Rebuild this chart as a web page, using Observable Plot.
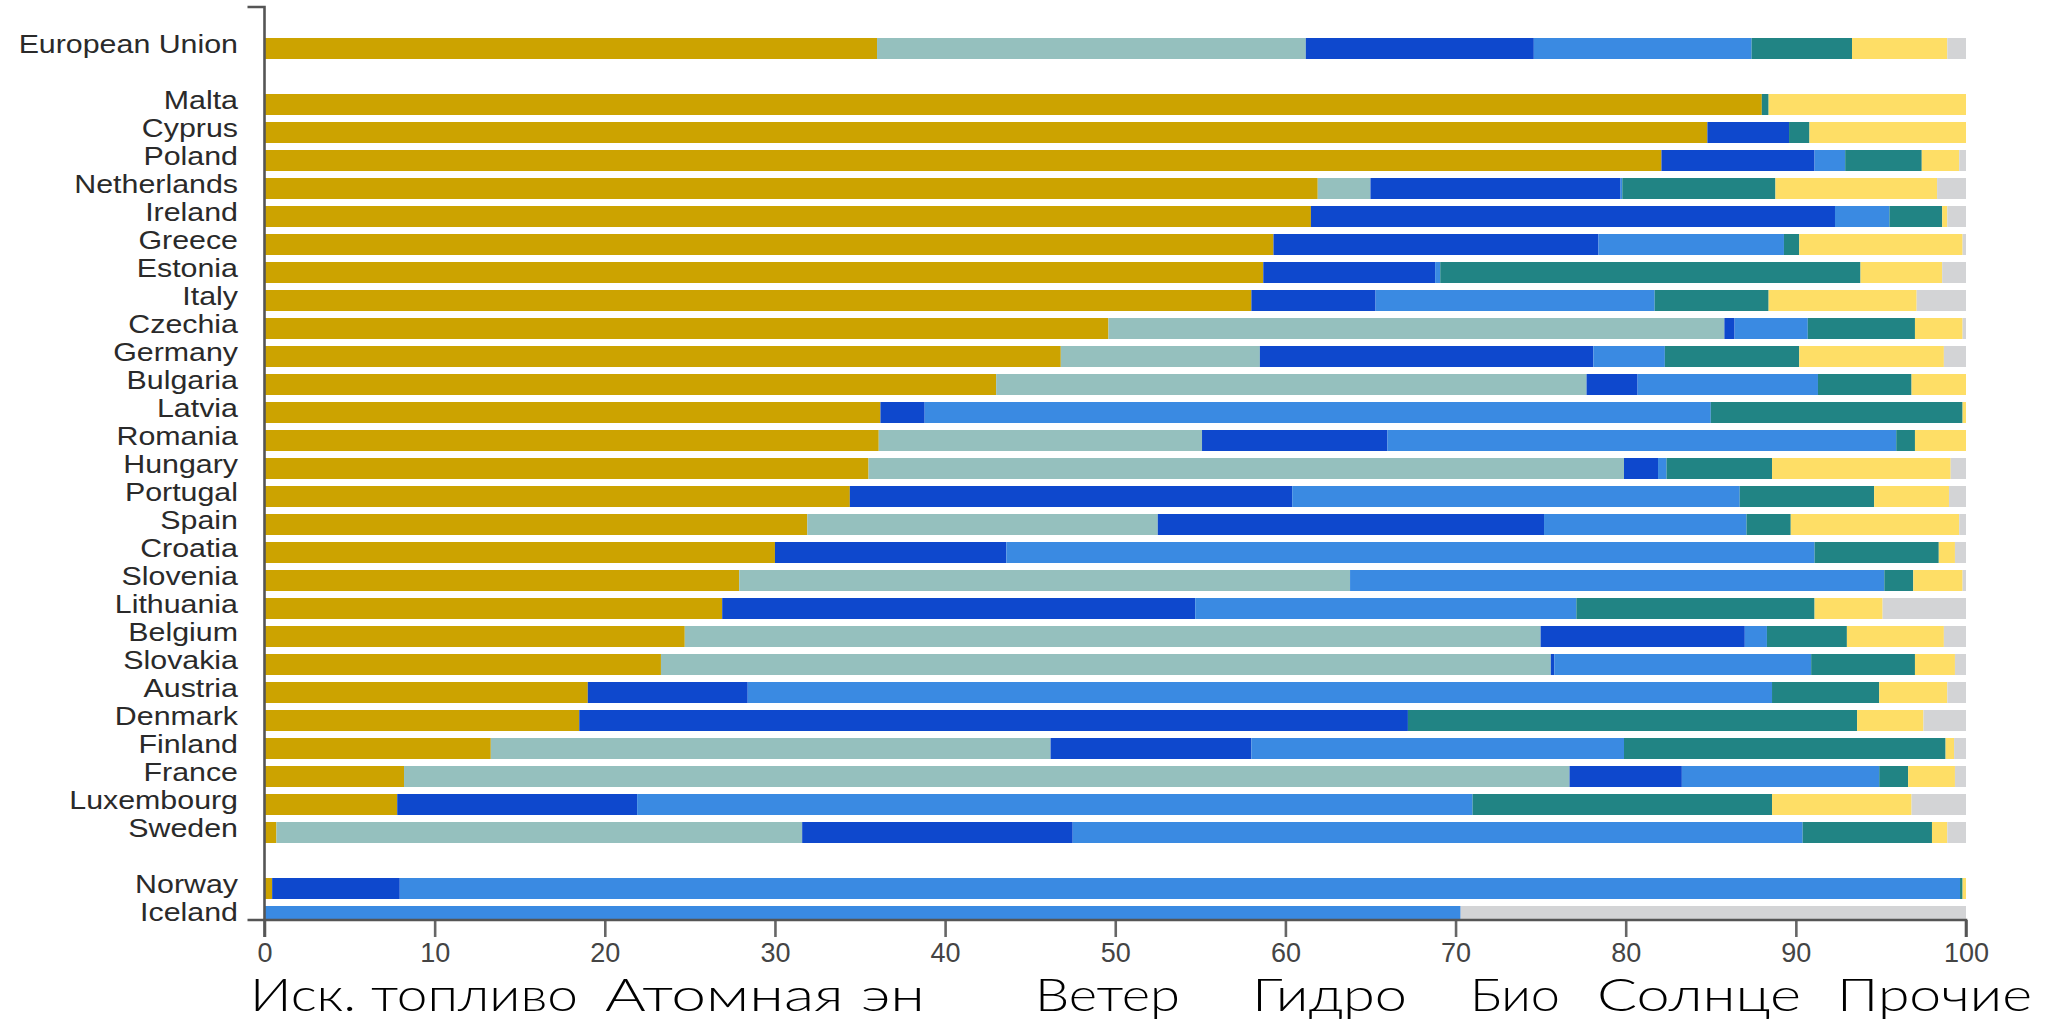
<!DOCTYPE html>
<html>
<head>
<meta charset="utf-8">
<script src="https://cdn.jsdelivr.net/npm/d3@7"></script>
<script src="https://cdn.jsdelivr.net/npm/@observablehq/plot@0.6"></script>
<style>
  html, body { margin: 0; padding: 0; background: #fff; overflow: hidden; }
  #chart svg { display: block; overflow: visible; }
  #legend { display: block; overflow: visible; }
</style>
</head>
<body>
<div id="chart"></div>
<svg id="legend" width="2046" height="51"></svg>
<script>
// ---- data (percent of electricity generation) ----
const countries = ["European Union","Malta","Cyprus","Poland","Netherlands","Ireland","Greece","Estonia","Italy","Czechia","Germany","Bulgaria","Latvia","Romania","Hungary","Portugal","Spain","Croatia","Slovenia","Lithuania","Belgium","Slovakia","Austria","Denmark","Finland","France","Luxembourg","Sweden","Norway","Iceland"];
const fossil  = [36.0,88.0,84.8,82.1,61.9,61.5,59.3,58.7,58.0,49.6,46.8,43.0,36.2,36.1,35.5,34.4,31.9,30.0,27.9,26.9,24.7,23.3,19.0,18.5,13.3,8.2,7.8,0.7,0.45,0];
const nuclear = [25.2,0,0,0,3.1,0,0,0,0,36.2,11.7,34.7,0,19.0,44.4,0,20.6,0,35.9,0,50.3,52.3,0,0,32.9,68.5,0,30.9,0,0];
const wind    = [13.4,0,4.8,9.0,14.7,30.8,19.1,10.1,7.3,0.6,19.6,3.0,2.6,10.9,2.0,26.0,22.7,13.6,0,27.8,12.0,0.2,9.4,48.7,11.8,6.6,14.1,15.9,7.5,0];
const hydro   = [12.8,0,0,1.8,0.1,3.2,10.9,0.3,16.4,4.3,4.2,10.6,46.2,29.9,0.5,26.3,11.9,47.5,31.4,22.4,1.3,15.1,60.2,0,21.9,11.6,49.1,42.9,91.7,70.3];
const bio     = [5.9,0.4,1.2,4.5,9.0,3.1,0.9,24.7,6.7,6.3,7.9,5.5,14.8,1.1,6.2,7.9,2.6,7.3,1.7,14.0,4.7,6.1,6.3,26.4,18.9,1.7,17.6,7.6,0.15,0];
const solar   = [5.6,11.6,9.2,2.2,9.5,0.3,9.6,4.8,8.7,2.8,8.5,3.2,0.2,3.0,10.5,4.4,9.9,0.95,2.9,4.0,5.7,2.35,4.0,3.9,0.5,2.75,8.2,0.9,0.2,0];
const other   = [1.1,0,0,0.4,1.7,1.1,0.2,1.4,2.9,0.2,1.3,0,0,0,0.9,1.0,0.4,0.65,0.2,4.9,1.3,0.65,1.1,2.5,0.7,0.65,3.2,1.1,0,29.7];
const sources = ["Иск. топливо","Атомная эн","Ветер","Гидро","Био","Солнце","Прочие"];
const colors  = ["#CCA300","#95C0BE","#0E48CD","#3A8AE2","#218484","#FEDE66","#D3D4D6"];
const xTicks  = [0,10,20,30,40,50,60,70,80,90,100];

(function () {
  // row order: EU, spacer, EU members, spacer, EFTA
  const yDomain = [countries[0], "gap-eu", ...countries.slice(1, 28), "gap-efta", ...countries.slice(28)];

  const series = [fossil, nuclear, wind, hydro, bio, solar, other];
  const table = countries.flatMap((c, i) => series.map((s, j) => ({country: c, source: sources[j], value: s[i]})))
    .filter(d => d.value > 0);

  const W = 2046, H = 970, mTop = 7, mBottom = 50, mLeft = 264.5, mRight = 80;

  const plot = Plot.plot({
    width: W, height: H,
    marginTop: mTop, marginBottom: mBottom, marginLeft: mLeft, marginRight: mRight,
    style: {fontFamily: "'Liberation Sans', Arial, sans-serif", background: "#fff"},
    x: {domain: [0, 100], label: null},
    y: {type: "band", domain: yDomain, range: [32.05, 933.2], paddingInner: 0.235, paddingOuter: 0, align: 0.5, label: null},
    color: {domain: sources, range: colors},
    marks: [
      Plot.barX(table, Plot.stackX({x: "value", y: "country", fill: "source", order: sources, clip: true})),
      Plot.axisY({ticks: countries, label: null, tickSize: 0, tickPadding: 27, fontSize: 25.3, dy: -4, fill: "#2a2a2a"}),
      Plot.axisX({ticks: xTicks, label: null, tickSize: 17, tickPadding: 5, fontSize: 27, stroke: "#666", strokeWidth: 2.6, fill: "#444"})
    ]
  });
  document.getElementById("chart").appendChild(plot);

  // widen the country labels horizontally (rows are tighter than the label font)
  d3.select(plot).selectAll('g[aria-label="y-axis tick label"] text').each(function () {
    const t = d3.select(this);
    let tr = t.attr("transform");
    if (!tr) {
      const x = +t.attr("x") || 0, y = +t.attr("y") || 0;
      t.attr("x", null).attr("y", null);
      tr = `translate(${x},${y})`;
    }
    t.attr("transform", tr + " scale(1.2,1)");
  });

  // axis domain lines (drawn with the plot's own x scale)
  const xs = plot.scale("x");
  const x0 = xs.apply(0), x1 = xs.apply(100);
  const yTop = mTop, yBottom = H - mBottom;
  const svg = d3.select(plot);
  svg.append("path")
    .attr("d", `M${x0 - 17},${yTop}H${x0}V${yBottom}H${x0 - 17}`)
    .attr("fill", "none").attr("stroke", "#555").attr("stroke-width", 2.6);
  svg.append("path")
    .attr("d", `M${x0},${yBottom + 17}V${yBottom}H${x1}V${yBottom + 17}`)
    .attr("fill", "none").attr("stroke", "#555").attr("stroke-width", 2.6);

  // legend text row
  const legendLeft  = [250, 605, 1035, 1252, 1470, 1597, 1837];
  const legendRight = [578, 925, 1180, 1407, 1560, 1801, 2032];
  const lg = d3.select("#legend");
  sources.forEach((s, i) => {
    lg.append("text")
      .attr("x", legendLeft[i]).attr("y", 41)
      .attr("textLength", legendRight[i] - legendLeft[i])
      .attr("lengthAdjust", "spacingAndGlyphs")
      .attr("font-family", "Lato, 'Noto Sans', sans-serif")
      .attr("font-weight", 300)
      .attr("font-size", 46)
      .attr("fill", "#000")
      .text(s);
  });
})();
</script>
</body>
</html>
